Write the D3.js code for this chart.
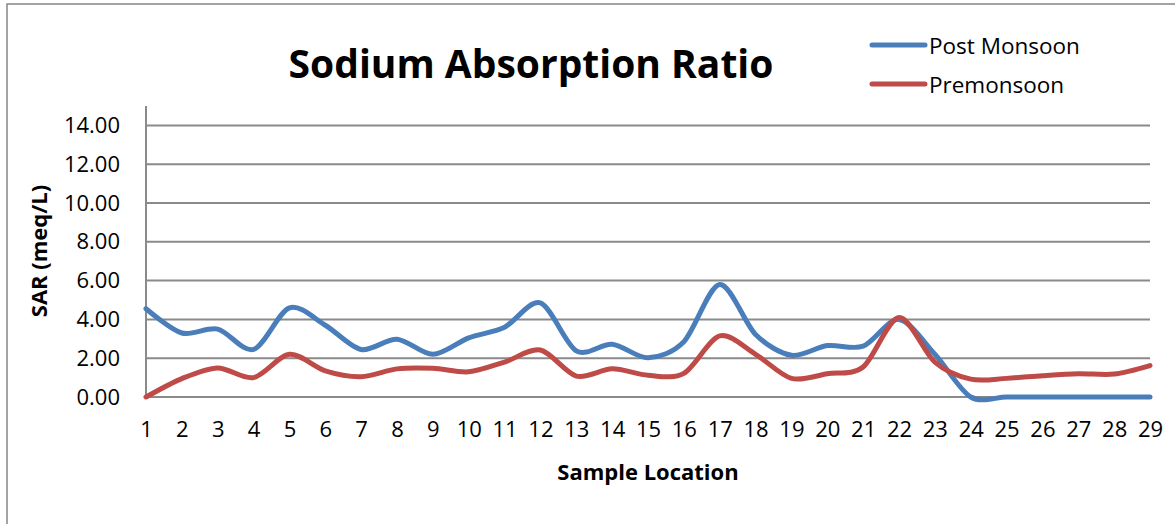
<!DOCTYPE html>
<html>
<head>
<meta charset="utf-8">
<script src="https://cdn.jsdelivr.net/npm/d3@7"></script>
<style>
  body { margin: 0; background: #fff; }
  svg { display: block; }
  text { font-family: "Open Sans", sans-serif; fill: #000; }
</style>
</head>
<body>
<svg id="chart" width="1175" height="524"></svg>
<script>
// sample locations 1..29
var locations = [1,2,3,4,5,6,7,8,9,10,11,12,13,14,15,16,17,18,19,20,21,22,23,24,25,26,27,28,29];
var postMonsoon = [4.55,3.3,3.5,2.45,4.6,3.7,2.45,2.98,2.2,3.05,3.6,4.85,2.38,2.72,2.02,2.85,5.8,3.22,2.15,2.65,2.62,4.0,2.2,0,0,0,0,0,0];
var premonsoon  = [0,0.95,1.5,1.0,2.2,1.35,1.05,1.45,1.48,1.3,1.8,2.42,1.08,1.45,1.12,1.22,3.15,2.2,0.96,1.2,1.55,4.1,1.8,0.92,0.96,1.1,1.2,1.18,1.62];
var yTicks = [0,2,4,6,8,10,12,14];

var series = [
  {name: 'Post Monsoon', values: postMonsoon, color: '#4a7ebb'},
  {name: 'Premonsoon', values: premonsoon, color: '#be4b48'}
];

var svg = d3.select('#chart');
var margin = {left: 146, top: 106, right: 25, bottom: 127};

// outer frame (runs off the right/bottom edge like the screenshot)
svg.append('rect')
  .attr('x', 7).attr('y', 4)
  .attr('width', 1200).attr('height', 600)
  .style('fill', 'none')
  .style('stroke', '#878787')
  .style('stroke-width', 1.5);

var x = d3.scalePoint()
  .domain(locations)
  .range([margin.left, 1150]);

var y = d3.scaleLinear()
  .domain([0, 15])
  .range([397, margin.top]);

// gridlines
svg.append('g')
  .selectAll('line')
  .data(yTicks)
  .join('line')
  .attr('x1', margin.left).attr('x2', 1150)
  .attr('y1', function(d){ return y(d); })
  .attr('y2', function(d){ return y(d); })
  .style('stroke', '#8a8a8a')
  .style('stroke-width', 2);

// y axis line
svg.append('line')
  .attr('x1', margin.left).attr('x2', margin.left)
  .attr('y1', y(15)).attr('y2', y(0))
  .style('stroke', '#8a8a8a')
  .style('stroke-width', 2);

// y axis labels
var yAxis = d3.axisLeft(y).tickValues(yTicks).tickFormat(d3.format('.2f')).tickSize(0).tickPadding(26);
var gy = svg.append('g').attr('transform', 'translate(' + margin.left + ',0)').call(yAxis);
gy.select('.domain').remove();
gy.selectAll('text').style('font-size', '22px').style('font-family', '"Open Sans", sans-serif').attr('fill', '#000');

// x axis labels
var xAxis = d3.axisBottom(x).tickSize(0).tickPadding(24);
var gx = svg.append('g').attr('transform', 'translate(0,' + y(0) + ')').call(xAxis);
gx.select('.domain').remove();
gx.selectAll('text').style('font-size', '22px').style('font-family', '"Open Sans", sans-serif').attr('fill', '#000');

// lines
var line = d3.line()
  .x(function(d, i){ return x(locations[i]); })
  .y(function(d){ return y(d); })
  .curve(d3.curveCardinal.tension(0.1));

svg.append('g')
  .selectAll('path')
  .data(series)
  .join('path')
  .attr('d', function(s){ return line(s.values); })
  .style('fill', 'none')
  .style('stroke', function(s){ return s.color; })
  .style('stroke-width', 5)
  .style('stroke-linejoin', 'round')
  .style('stroke-linecap', 'round');

// title
svg.append('text')
  .attr('x', 531).attr('y', 78)
  .attr('text-anchor', 'middle')
  .style('font-size', '39px')
  .style('font-weight', 'bold')
  .text('Sodium Absorption Ratio');

// axis titles
svg.append('text')
  .attr('x', 648).attr('y', 480)
  .attr('text-anchor', 'middle')
  .style('font-size', '22px')
  .style('font-weight', 'bold')
  .text('Sample Location');

svg.append('text')
  .attr('transform', 'translate(47,251) rotate(-90)')
  .attr('text-anchor', 'middle')
  .style('font-size', '22px')
  .style('font-weight', 'bold')
  .text('SAR (meq/L)');

// legend
var legend = svg.append('g')
  .selectAll('g')
  .data(series)
  .join('g')
  .attr('transform', function(d, i){ return 'translate(870,' + (45 + i * 39) + ')'; });

legend.append('line')
  .attr('x1', 2).attr('x2', 55)
  .style('stroke', function(d){ return d.color; })
  .style('stroke-width', 5)
  .style('stroke-linecap', 'round');

legend.append('text')
  .attr('x', 59).attr('y', 9)
  .style('font-size', '22.5px')
  .text(function(d){ return d.name; });
</script>
</body>
</html>
